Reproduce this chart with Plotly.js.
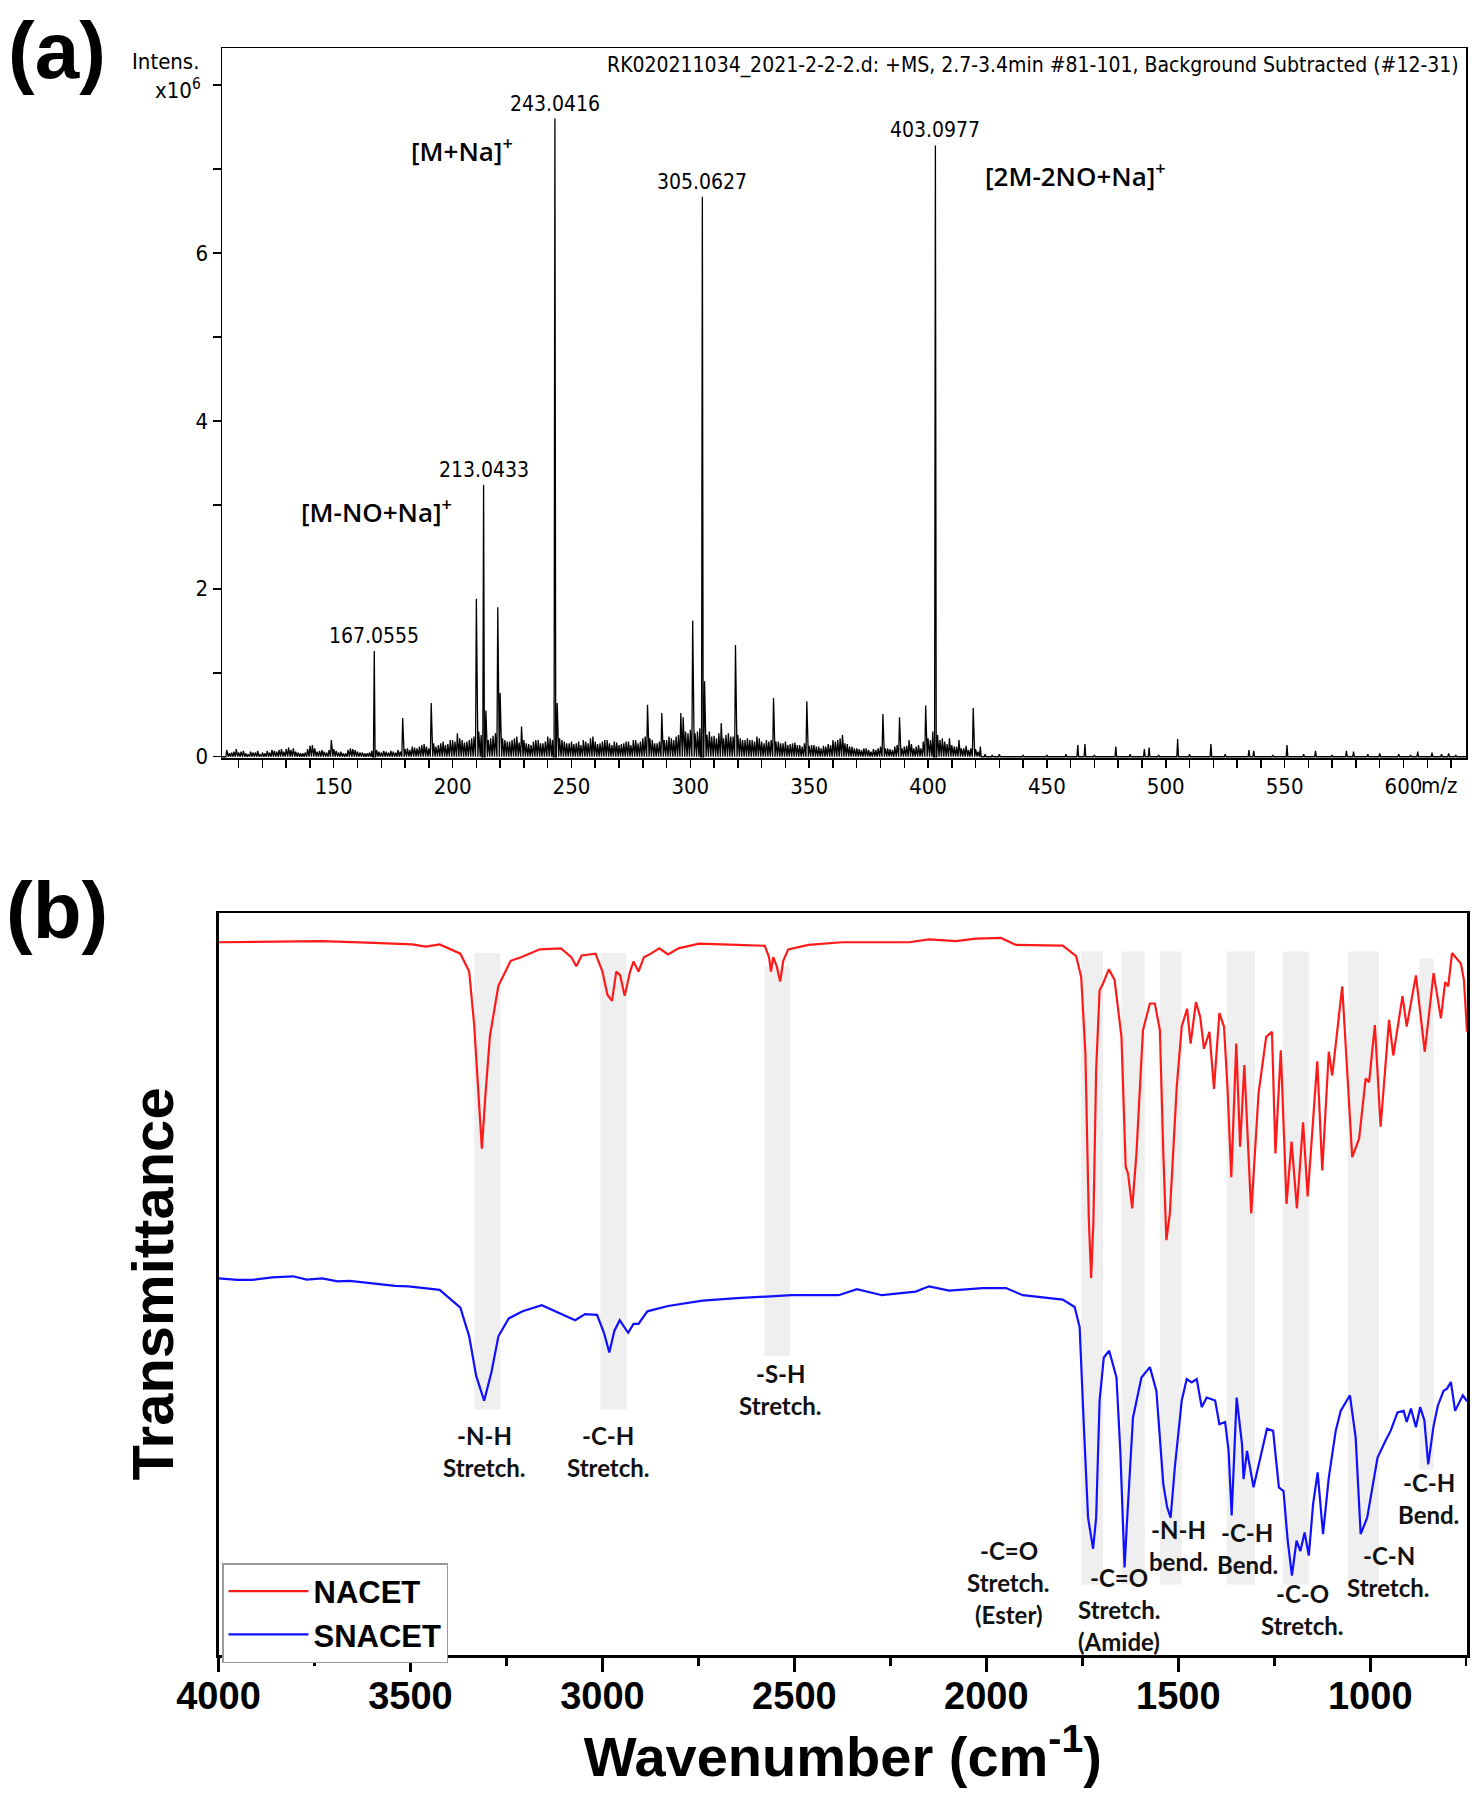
<!DOCTYPE html>
<html><head><meta charset="utf-8">
<script src="https://cdn.plot.ly/plotly-3.0.1.min.js"></script>
<style>html,body{margin:0;padding:0;background:#fff}</style>
</head><body>
<div id="chart" style="width:1479px;height:1800px"></div>
<script>
// ---------- (a) ESI-MS spectrum (intensity x10^6) ----------
const msPeakMz  = [167.0555, 179, 191, 202, 210, 213.0433, 214, 219, 220, 229, 243.0416, 244, 282, 288, 296, 297, 301, 305.0627, 306, 313, 319, 335, 349, 364, 381, 388, 399, 403.0977, 409, 413, 419, 422, 463, 466, 479, 491, 493, 505, 519, 535, 537, 551, 563, 576, 579, 590, 606, 612, 619, 149, 140];
const msPeakInt = [1.26, 0.46, 0.64, 0.28, 1.88, 3.24, 0.55, 1.78, 0.76, 0.36, 7.60, 0.64, 0.62, 0.52, 0.52, 0.47, 1.62, 6.67, 0.9, 0.40, 1.33, 0.70, 0.66, 0.26, 0.51, 0.47, 0.61, 7.28, 0.22, 0.20, 0.58, 0.12, 0.14, 0.15, 0.12, 0.09, 0.11, 0.21, 0.15, 0.08, 0.07, 0.14, 0.07, 0.07, 0.06, 0.04, 0.06, 0.05, 0.04, 0.20, 0.13];
const msNoiseMz  = [105,107,109,111,113,116,118,121,124,126,128,131,133,135,137,141,143,145,147,153,155,157,159,161,163,165,169,171,173,175,177,181,183,185,187,189,193,195,197,199,201,204,206,208,211,215,217,222,224,226,231,233,235,237,239,241,246,248,250,252,254,256,258,260,262,264,266,268,270,272,274,276,278,280,284,286,290,292,294,299,303,307,309,311,315,317,321,323,325,327,329,331,333,337,339,341,343,345,347,351,353,355,357,359,361,362,366,368,370,372,374,376,378,383,385,390,392,394,396,401,406,408,411,415,417,421,424,427,430,440,450,458,470,485,497,510,525,545,558,570,585,598,603,616,622];
const msNoiseInt = [0.08,0.05,0.09,0.06,0.04,0.05,0.07,0.04,0.08,0.06,0.09,0.11,0.10,0.05,0.04,0.14,0.06,0.08,0.05,0.06,0.04,0.10,0.08,0.05,0.04,0.05,0.06,0.07,0.05,0.06,0.08,0.10,0.12,0.10,0.14,0.12,0.12,0.16,0.14,0.20,0.18,0.20,0.18,0.22,0.30,0.20,0.25,0.20,0.18,0.22,0.16,0.14,0.20,0.16,0.18,0.22,0.20,0.16,0.18,0.16,0.14,0.18,0.22,0.18,0.16,0.20,0.16,0.18,0.14,0.16,0.18,0.20,0.16,0.22,0.20,0.16,0.20,0.22,0.24,0.28,0.30,0.26,0.24,0.22,0.26,0.24,0.22,0.20,0.20,0.18,0.22,0.16,0.18,0.18,0.16,0.14,0.16,0.14,0.12,0.14,0.12,0.10,0.12,0.14,0.18,0.20,0.15,0.12,0.10,0.08,0.10,0.06,0.08,0.10,0.08,0.12,0.20,0.10,0.14,0.20,0.22,0.15,0.12,0.10,0.08,0.06,0.03,0.02,0.03,0.02,0.02,0.03,0.02,0.03,0.02,0.03,0.03,0.02,0.03,0.02,0.03,0.03,0.02,0.03,0.02];
const msGrassMz  = [106,108,110,112,114,115,117,119,120,122,123,125,127,129,130,132,134,136,138,139,142,144,146,148,150,151,152,154,156,158,160,162,164,166,168,170,172,174,176,178,180,182,184,
                    186,188,190,192,194,196,198,200,203,205,207,209,212,216,218,221,223,225,227,228,230,232,234,236,238,240,242,245,247,249,251,253,255,257,259,261,263,265,267,269,271,273,275,277,279,281,283,285,287,289,291,293,295,298,300,302,304,308,310,312,314,316,318,320,322,324,326,328,330,332,334,336,338,340,342,344,346,348,350,352,354,356,358,360,363,365,367,369,371,373,375,377,379,380,382,384,386,387,389,391,393,395,397,398,400,402,404,405,407,410,412,414,416,418,420];
const msGrassInt = [0.04,0.06,0.05,0.07,0.03,0.06,0.05,0.03,0.05,0.07,0.05,0.07,0.08,0.06,0.09,0.08,0.06,0.04,0.05,0.09,0.10,0.07,0.06,0.08,0.09,0.07,0.05,0.04,0.08,0.09,0.06,0.05,0.04,0.07,0.08,0.05,0.06,0.07,0.05,0.06,0.09,0.08,0.11,
                    0.12,0.15,0.10,0.16,0.14,0.18,0.15,0.20,0.22,0.17,0.20,0.24,0.26,0.22,0.28,0.22,0.18,0.20,0.24,0.17,0.20,0.15,0.18,0.20,0.16,0.24,0.20,0.22,0.18,0.16,0.15,0.18,0.20,0.16,0.24,0.15,0.18,0.20,0.14,0.17,0.15,0.18,0.14,0.20,0.18,0.24,0.22,0.16,0.18,0.20,0.24,0.20,0.26,0.30,0.32,0.28,0.34,0.30,0.25,0.28,0.22,0.28,0.24,0.26,0.20,0.22,0.20,0.24,0.18,0.20,0.20,0.18,0.16,0.18,0.15,0.17,0.14,0.16,0.13,0.14,0.12,0.13,0.15,0.20,0.22,0.16,0.12,0.10,0.09,0.10,0.08,0.09,0.10,0.12,0.10,0.09,0.12,0.14,0.10,0.13,0.15,0.12,0.10,0.18,0.22,0.30,0.26,0.20,0.18,0.14,0.12,0.10,0.13,0.10,0.09];
const msLabelMz  = [167.0555, 213.0433, 243.0416, 305.0627, 403.0977];
const msLabelInt = [1.26, 3.24, 7.60, 6.67, 7.28];
const msLabelText = ["167.0555", "213.0433", "243.0416", "305.0627", "403.0977"];
const msIonText = ["[M+Na]<sup>+</sup>", "[2M-2NO+Na]<sup>+</sup>", "[M-NO+Na]<sup>+</sup>"];
const msIonMz   = [203.8, 462.2, 168.0];
const msIonInt  = [7.23, 6.93, 2.93];
const msXTicks = [150, 200, 250, 300, 350, 400, 450, 500, 550, 600];
const msYTicks = [0, 2, 4, 6, 8];
const msYTickText = ["0", "2", "4", "6", ""];

// ---------- (b) FTIR spectra ----------
const nacetWn = [4000,3865,3730,3595,3496,3460,3424,3370,3347,3334,3323,3314,3305,3293,3271,3239,3212,3163,3108,3081,3068,3054,3018,3000,2987,2975,2964,2954,2942,2928,2919,2906,2892,2874,2852,2829,2802,2748,2649,2577,2566,2561,2555,2546,2537,2529,2516,2463,2376,2272,2202,2149,2080,2027,1962,1923,1801,1766,1753,1742,1733,1727,1721,1714,1705,1696,1681,1666,1648,1637,1631,1620,1609,1592,1574,1561,1548,1539,1531,1522,1504,1491,1477,1468,1454,1443,1433,1419,1407,1393,1381,1372,1362,1349,1339,1328,1310,1291,1271,1256,1247,1233,1218,1205,1191,1175,1163,1138,1125,1108,1099,1073,1047,1029,1012,1003,988,973,951,940,916,905,881,858,835,816,805,797,787,764,756,748];
const nacetT  = [96.06,96.16,96.21,95.97,95.77,95.48,95.77,94.52,92.11,84.88,75.24,68.25,75.24,83.43,90.18,93.56,94.04,95.1,95.24,94.04,92.83,94.28,94.52,92.11,88.98,88.16,92.11,91.63,88.83,92.11,93.46,92.11,94.04,94.52,95.24,94.42,95.24,95.87,95.7,95.58,94.04,92.11,94.04,92.83,90.76,93.56,95.1,95.7,96.06,96.06,96.06,96.45,96.21,96.54,96.64,95.7,95.6,94.2,91.4,81.1,58.6,50.8,58.6,78.8,89.6,90.5,92.4,91.0,83.3,65.8,64.9,60.2,67.6,84.2,87.8,87.8,84.2,67.6,55.9,59.5,76.6,84.7,87.1,82.4,88.0,86.0,81.7,84.0,76.3,86.5,84.7,76.6,64.4,82.4,68.5,79.5,59.5,75.7,83.3,84.0,67.6,81.5,60.8,69.2,60.2,71.8,61.8,80.0,65.3,81.3,78.1,90.1,67.1,69.6,77.7,77.2,84.9,71.2,85.6,80.8,88.8,84.7,91.6,81.3,91.9,85.8,90.7,90.1,94.6,93.2,91.0,84.0];
const snacetWn = [4000,3950,3910,3860,3806,3770,3730,3690,3658,3620,3577,3540,3505,3424,3370,3347,3329,3308,3289,3271,3244,3208,3158,3100,3071,3045,3014,2996,2982,2969,2955,2933,2919,2906,2883,2829,2739,2649,2507,2385,2337,2272,2184,2149,2097,2010,1949,1905,1801,1770,1757,1747,1735,1722,1714,1705,1694,1680,1661,1651,1644,1640,1633,1618,1596,1574,1557,1539,1529,1520,1509,1491,1478,1465,1452,1439,1426,1404,1393,1378,1369,1361,1348,1334,1330,1321,1304,1287,1269,1253,1238,1226,1215,1204,1192,1182,1171,1160,1149,1137,1123,1108,1090,1077,1053,1038,1025,1008,981,960,947,929,913,905,894,881,870,859,849,835,824,809,800,790,779,759,748];
const snacetT  = [50.75,50.55,50.56,50.9,51.04,50.6,50.75,50.35,50.42,50.2,49.94,49.75,49.69,49.21,46.8,42.95,37.64,34.27,38.13,42.95,45.36,46.32,47.14,45.84,45.12,45.94,45.84,43.43,40.78,43.67,45.12,43.43,44.63,44.63,46.32,47.04,47.77,48.1,48.49,48.49,49.31,48.49,48.97,49.69,49.11,49.45,49.45,48.49,47.9,46.9,44.2,32.0,18.5,14.3,18.5,34.3,40.1,41.0,37.4,27.5,16.3,11.8,18.5,32.0,37.4,38.8,35.6,23.0,19.9,18.5,25.3,34.3,37.2,36.75,37.2,33.4,34.7,34.3,31.1,31.4,27.5,18.8,34.7,28.4,23.7,27.5,22.6,26.6,30.5,30.2,22.6,22.1,15.4,10.7,15.4,14.0,16.5,13.4,20.3,24.6,16.3,23.9,30.2,32.9,35.0,29.3,16.3,18.5,26.6,28.9,30.2,32.7,32.9,31.4,33.2,30.7,33.4,31.6,25.7,30.9,33.6,35.6,35.9,36.8,32.9,35.0,34.2];
const irTicks = [4000, 3500, 3000, 2500, 2000, 1500, 1000];
// shaded assignment bands (wavenumber from/to, transmittance bottom/top)
const bandFrom = [3334, 3005, 2578, 1753, 1648, 1548, 1374, 1227, 1058, 872];
const bandTo   = [3266, 2937, 2511, 1696, 1587, 1491, 1300, 1160, 977, 835];
const bandLow  = [33.1, 33.1, 40.3, 9.5, 9.5, 9.5, 9.5, 9.5, 9.5, 25];
const bandHigh = [94.6, 94.6, 92.8, 94.8, 94.8, 94.8, 94.8, 94.8, 94.8, 93.9];
// assignment labels (one entry per label, lines separated by "|")
const irLabelText = ["-N-H|Stretch.", "-C-H|Stretch.", "-S-H|Stretch.", "-C=O|Stretch.|(Ester)", "-C=O|Stretch.|(Amide)", "-N-H|bend.", "-C-H|Bend.", "-C-O|Stretch.", "-C-N|Stretch.", "-C-H|Bend."];
const irLabelWn = [3306, 2985, 2536, 1941, 1654, 1499, 1320, 1176, 952, 847];
const irLabelT  = [27.4, 27.4, 35.8, 9.8, 6.2, 14.7, 14.3, 6.2, 11.3, 21.1];

// ---------- build stick profile ----------
const allMz = msPeakMz.concat(msNoiseMz, msGrassMz);
const allInt = msPeakInt.concat(msNoiseInt, msGrassInt);
const ord = allMz.map((m, i) => i).sort((a, b) => allMz[a] - allMz[b]);
const px = [103], py = [0];
ord.forEach(i => { px.push(allMz[i] - 0.35, allMz[i], allMz[i] + 0.35); py.push(0, allInt[i], 0); });
px.push(626.3); py.push(0);

const condensed = "DejaVu Sans Condensed, DejaVu Sans, sans-serif";
const arialB = {family: "Liberation Sans, Arial, sans-serif", weight: 700, color: "#000"};

const traces = [
  {x: px, y: py, xaxis: "x", yaxis: "y", type: "scatter", mode: "lines",
   line: {color: "#000", width: 1.3}, showlegend: false, hoverinfo: "skip"},
  {x: nacetWn, y: nacetT, xaxis: "x2", yaxis: "y2", type: "scatter", mode: "lines",
   name: "NACET", line: {color: "#ff1a1a", width: 2.2}},
  {x: snacetWn, y: snacetT, xaxis: "x2", yaxis: "y2", type: "scatter", mode: "lines",
   name: "SNACET", line: {color: "#1010ff", width: 2.2}}
];

const shapes = bandFrom.map((f, i) => ({
  type: "rect", xref: "x2", yref: "y2", x0: f, x1: bandTo[i], y0: bandLow[i], y1: bandHigh[i],
  fillcolor: "rgba(205,205,205,0.33)", line: {width: 0}, layer: "below"
}));

const annotations = [];
msLabelText.forEach((t, i) => annotations.push({
  xref: "x", yref: "y", x: msLabelMz[i], y: msLabelInt[i], text: t, showarrow: false,
  yanchor: "bottom", yshift: 1, font: {family: condensed, size: 21, color: "#000"}
}));
msIonText.forEach((t, i) => annotations.push({
  xref: "x", yref: "y", x: msIonMz[i], y: msIonInt[i], text: t, showarrow: false,
  font: {family: "Open Sans, sans-serif", size: 26, weight: 600, color: "#000"}
}));
annotations.push(
  {xref: "paper", yref: "paper", x: 0.9878, y: 0.9636, xanchor: "right", yanchor: "middle", showarrow: false,
   text: "RK020211034_2021-2-2-2.d: +MS, 2.7-3.4min #81-101, Background Subtracted (#12-31)",
   font: {family: condensed, size: 21, color: "#000"}},
  {xref: "paper", yref: "paper", x: 0.1359, y: 0.9661, xanchor: "right", yanchor: "middle", showarrow: false,
   text: "Intens.", font: {family: condensed, size: 22, color: "#000"}},
  {xref: "paper", yref: "paper", x: 0.1373, y: 0.9506, xanchor: "right", yanchor: "middle", showarrow: false,
   text: "x10<sup>6</sup>", font: {family: condensed, size: 22, color: "#000"}},
  {xref: "paper", yref: "paper", x: 0.9595, y: 0.5637, xanchor: "left", yanchor: "middle", showarrow: false,
   text: "m/z", font: {family: condensed, size: 22, color: "#000"}},
  {xref: "paper", yref: "paper", x: 0.0385, y: 1 - 50 / 1800, xanchor: "center", yanchor: "middle", showarrow: false,
   text: "(a)", font: Object.assign({size: 80}, arialB)},
  {xref: "paper", yref: "paper", x: 0.0385, y: 1 - 911 / 1800, xanchor: "center", yanchor: "middle", showarrow: false,
   text: "(b)", font: Object.assign({size: 80}, arialB)}
);
const lineGap = 32;
irLabelText.forEach((t, i) => {
  const lines = t.split("|");
  lines.forEach((ln, k) => annotations.push({
    xref: "x2", yref: "y2", x: irLabelWn[i], y: irLabelT[i], text: ln, showarrow: false,
    xanchor: "center", yanchor: "middle", yshift: ((lines.length - 1) / 2 - k) * lineGap,
    font: {family: "Lato, Open Sans, sans-serif", size: 24, weight: 700, color: "#111"}
  }));
});

const layout = {
  width: 1479, height: 1800,
  margin: {l: 0, r: 0, t: 0, b: 0},
  paper_bgcolor: "#fff", plot_bgcolor: "#fff",
  showlegend: true,
  legend: {x: 222 / 1479, y: 1 - 1563 / 1800, xanchor: "left", yanchor: "top",
           bgcolor: "#fff", bordercolor: "#9a9a9a", borderwidth: 1.5, itemwidth: 80,
           font: Object.assign({size: 31}, arialB), tracegroupgap: 0},
  xaxis: {domain: [222 / 1479, 1466 / 1479], anchor: "y", range: [103, 626.3],
          showline: true, mirror: true, linecolor: "#000", linewidth: 1.5,
          showgrid: false, zeroline: false, ticks: "outside", ticklen: 8, tickwidth: 1.5, tickcolor: "#000",
          tickmode: "array", tickvals: msXTicks,
          minor: {tickmode: "linear", tick0: 100, dtick: 10, ticks: "outside", ticklen: 8, tickwidth: 1.5, tickcolor: "#000"},
          tickfont: {family: condensed, size: 22, color: "#000"}},
  yaxis: {domain: [1 - 758 / 1800, 1 - 48 / 1800], anchor: "x", range: [-0.015, 8.44],
          showline: true, mirror: true, linecolor: "#000", linewidth: 1.5,
          showgrid: false, zeroline: false, ticks: "outside", ticklen: 8, tickwidth: 1.5, tickcolor: "#000",
          tickmode: "array", tickvals: msYTicks, ticktext: msYTickText,
          minor: {tickmode: "linear", tick0: 0, dtick: 1, ticks: "outside", ticklen: 8, tickwidth: 1.5, tickcolor: "#000"},
          tickfont: {family: condensed, size: 22, color: "#000"}},
  xaxis2: {domain: [218.5 / 1479, 1467 / 1479], anchor: "y2", range: [4000, 748],
           showline: true, mirror: true, linecolor: "#000", linewidth: 2.5,
           showgrid: false, zeroline: false, ticks: "outside", ticklen: 14, tickwidth: 2.5, tickcolor: "#000",
           tickmode: "array", tickvals: irTicks, ticklabelstandoff: -8,
           minor: {tickmode: "linear", tick0: 750, dtick: 250, ticks: "outside", ticklen: 8, tickwidth: 2.5, tickcolor: "#000"},
           tickfont: Object.assign({size: 38}, arialB),
           title: {text: "Wavenumber (cm<sup>-1</sup>)", font: Object.assign({size: 56}, arialB), standoff: 4}},
  yaxis2: {domain: [1 - 1655 / 1800, 1 - 913 / 1800], anchor: "x2", range: [0, 100],
           showline: true, mirror: true, linecolor: "#000", linewidth: 2.5,
           showgrid: false, zeroline: false, showticklabels: false, ticks: "",
           title: {text: "Transmittance", font: Object.assign({size: 58}, arialB), standoff: 24}},
  shapes: shapes,
  annotations: annotations
};

Plotly.newPlot("chart", traces, layout, {displayModeBar: false, staticPlot: true});
</script>
</body></html>
